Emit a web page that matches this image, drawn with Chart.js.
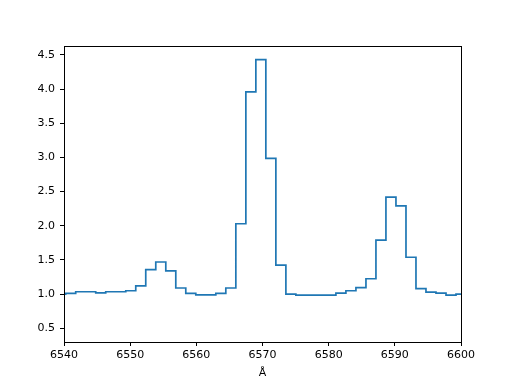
<!DOCTYPE html>
<html>
<head>
<meta charset="utf-8">
<script src="https://cdn.jsdelivr.net/npm/chart.js@4"></script>
<style>
  body { margin: 0; background: #fff; }
</style>
</head>
<body>
<canvas id="spectrum" width="512" height="384"></canvas>
<script>
// wavelength bin centres (Angstrom) and flux per bin
const wavelength = [
    6539.50, 6541.01, 6542.53, 6544.04, 6545.55, 6547.06, 6548.58, 6550.09,
    6551.60, 6553.11, 6554.63, 6556.14, 6557.65, 6559.16, 6560.68, 6562.19,
    6563.70, 6565.21, 6566.73, 6568.24, 6569.75, 6571.26, 6572.78, 6574.29,
    6575.80, 6577.31, 6578.83, 6580.34, 6581.85, 6583.36, 6584.88, 6586.39,
    6587.90, 6589.41, 6590.93, 6592.44, 6593.95, 6595.46, 6596.98, 6598.49,
    6600.00
];
const flux = [
    1.00, 1.01, 1.035, 1.035, 1.02, 1.035, 1.035, 1.05,
    1.12, 1.36, 1.47, 1.34, 1.09, 1.01, 0.99, 0.99,
    1.01, 1.09, 2.03, 3.96, 4.43, 2.985, 1.425, 1.00,
    0.985, 0.985, 0.985, 0.987, 1.016, 1.05, 1.094, 1.225,
    1.79, 2.42, 2.29, 1.54, 1.08, 1.03, 1.016, 0.987,
    1.00
];
const xTicks = [6540, 6550, 6560, 6570, 6580, 6590, 6600];
const yTicks = [0.5, 1.0, 1.5, 2.0, 2.5, 3.0, 3.5, 4.0, 4.5];

const frameBox = {
    id: 'frameBox',
    afterDatasetsDraw(chart) {
        const a = chart.chartArea;
        const ctx = chart.ctx;
        ctx.save();
        ctx.strokeStyle = '#000';
        ctx.lineWidth = 1;
        ctx.strokeRect(Math.round(a.left) + 0.5, Math.round(a.top) + 0.5,
            Math.round(a.right - a.left), Math.round(a.bottom - a.top));
        ctx.restore();
    }
};

const tickFont = { family: 'DejaVu Sans', size: 11 };

new Chart(document.getElementById('spectrum').getContext('2d'), {
    type: 'line',
    data: {
        datasets: [{
            data: wavelength.map((w, i) => ({ x: w, y: flux[i] })),
            borderColor: '#1f77b4',
            borderWidth: 1.7,
            stepped: 'middle',
            pointRadius: 0,
            fill: false
        }]
    },
    options: {
        responsive: false,
        animation: false,
        layout: { padding: { left: 0, top: 46, right: 51, bottom: 0 } },
        plugins: { legend: { display: false }, tooltip: { enabled: false } },
        scales: {
            x: {
                type: 'linear',
                min: 6540,
                max: 6600,
                afterBuildTicks: s => { s.ticks = xTicks.map(v => ({ value: v })); },
                afterFit: s => { s.height = 42; },
                ticks: { font: tickFont, color: '#000', padding: 3, maxRotation: 0,
                         callback: v => String(v) },
                grid: { drawOnChartArea: false, drawTicks: true, tickLength: 4, tickColor: '#000' },
                border: { display: false },
                title: { display: true, text: 'Å', font: tickFont, color: '#000',
                         padding: { top: 0, bottom: 4 } }
            },
            y: {
                type: 'linear',
                min: 0.3,
                max: 4.63,
                afterBuildTicks: s => { s.ticks = yTicks.map(v => ({ value: v })); },
                afterFit: s => { s.width = 64; },
                ticks: { font: tickFont, color: '#000', padding: 5,
                         callback: v => Number(v).toFixed(1) },
                grid: { drawOnChartArea: false, drawTicks: true, tickLength: 4, tickColor: '#000' },
                border: { display: false }
            }
        }
    },
    plugins: [frameBox]
});
</script>
</body>
</html>
